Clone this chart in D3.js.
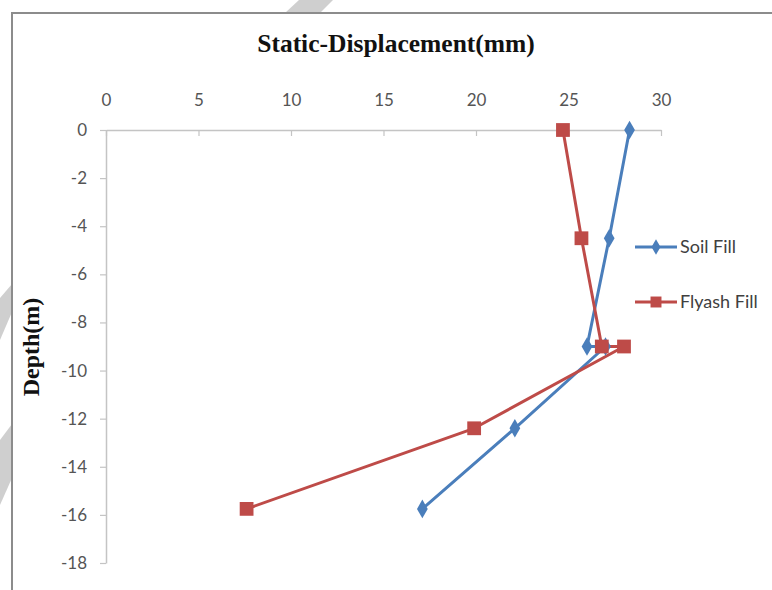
<!DOCTYPE html>
<html>
<head>
<meta charset="utf-8">
<script src="https://cdn.jsdelivr.net/npm/d3@7"></script>
<style>
  html, body { margin: 0; padding: 0; background: #fff; }
  svg { display: block; }
</style>
</head>
<body>
<svg id="chart" width="772" height="590"></svg>
<script>
// ---- Data ----
const soilDisp   = [28.3, 27.2, 26.0, 27.0, 22.1, 17.1];
const soilDepth  = [0, -4.5, -9.0, -9.0, -12.4, -15.75];
const flyDisp    = [24.7, 25.7, 26.8, 28.0, 19.9, 7.6];
const flyDepth   = [0, -4.5, -9.0, -9.0, -12.4, -15.75];
const seriesNames = ["Soil Fill", "Flyash Fill"];
const xTicks = [0, 5, 10, 15, 20, 25, 30];
const yTicks = [0, -2, -4, -6, -8, -10, -12, -14, -16, -18];
const titleText = "Static-Displacement(mm)";
const yLabelText = "Depth(m)";

const colors = ["#4a7ebb", "#be4b48"];

const svg = d3.select("#chart");

// watermark fragments (grey diagonal bands behind the chart)
const wm = [
  [[285,13],[299,0],[333,0],[320,13]],
  [[0,298],[12,284],[12,312],[0,340]],
  [[0,440],[12,424],[12,478],[0,505]]
];
svg.selectAll("polygon.wm").data(wm).join("polygon")
  .attr("class","wm")
  .attr("points", d => d.map(p => p.join(",")).join(" "))
  .attr("fill", "#cfcfcf");

// chart frame
svg.append("path")
  .attr("d", "M12,590 L12,13 L772,13")
  .attr("fill", "none")
  .attr("stroke", "#8c8c8c")
  .attr("stroke-width", 2);

// scales
const x = d3.scaleLinear().domain([0, 30]).range([106, 661]);
const y = d3.scaleLinear().domain([0, -18]).range([130, 563]);

const tickFont = "Lato, 'Open Sans', sans-serif";

// x axis on top (ticks pointing into plot)
const xAxis = svg.append("g").attr("transform", `translate(0,${y(0)})`)
  .call(d3.axisBottom(x).tickValues(xTicks).tickSize(6).tickSizeOuter(0).tickFormat(d3.format("d")));
xAxis.select(".domain").attr("stroke", "#c4c4c4").attr("stroke-width", 1.5);
xAxis.selectAll(".tick line").attr("stroke", "#c4c4c4").attr("stroke-width", 1.2);
xAxis.selectAll(".tick text")
  .attr("y", -24).attr("dy", 0)
  .attr("font-family", tickFont).attr("font-size", 17).attr("fill", "#555");

// y axis
const yAxis = svg.append("g").attr("transform", `translate(${x(0)},0)`)
  .call(d3.axisLeft(y).tickValues(yTicks).tickSize(6).tickSizeOuter(0).tickFormat(d3.format("d")));
yAxis.select(".domain").attr("stroke", "#c4c4c4").attr("stroke-width", 1.5);
yAxis.selectAll(".tick line").attr("stroke", "#c4c4c4").attr("stroke-width", 1.2);
yAxis.selectAll(".tick text")
  .attr("x", -19)
  .attr("font-family", tickFont).attr("font-size", 17).attr("fill", "#555")
  .text(d => d < 0 ? "-" + Math.abs(d) : d);

// title
svg.append("text")
  .attr("x", 396).attr("y", 52)
  .attr("text-anchor", "middle")
  .attr("font-family", "'Liberation Serif', 'Times New Roman', serif")
  .attr("font-weight", "bold").attr("font-size", 25.5)
  .attr("fill", "#111")
  .text(titleText);

// y label
svg.append("text")
  .attr("transform", "translate(39,347) rotate(-90)")
  .attr("text-anchor", "middle")
  .attr("font-family", "'Liberation Serif', 'Times New Roman', serif")
  .attr("font-weight", "bold").attr("font-size", 24)
  .attr("fill", "#111")
  .text(yLabelText);

// series
const series = [
  { name: seriesNames[0], pts: soilDisp.map((v, i) => [v, soilDepth[i]]), color: colors[0], shape: d3.symbolDiamond, size: 100 },
  { name: seriesNames[1], pts: flyDisp.map((v, i) => [v, flyDepth[i]]), color: colors[1], shape: d3.symbolSquare, size: 190 }
];

const line = d3.line().x(d => x(d[0])).y(d => y(d[1]));

series.forEach(s => {
  svg.append("path")
    .attr("d", line(s.pts))
    .attr("fill", "none")
    .attr("stroke", s.color)
    .attr("stroke-width", 3)
    .attr("stroke-linejoin", "round");
});
series.forEach(s => {
  svg.selectAll(null).data(s.pts).join("path")
    .attr("transform", d => `translate(${x(d[0])},${y(d[1])})`)
    .attr("d", d3.symbol().type(s.shape).size(s.size))
    .attr("fill", s.color);
});

// legend
const legendY = [247, 302];
series.forEach((s, i) => {
  const g = svg.append("g").attr("transform", `translate(0,${legendY[i]})`);
  g.append("line").attr("x1", 635).attr("x2", 677).attr("y1", 0).attr("y2", 0)
    .attr("stroke", s.color).attr("stroke-width", 3);
  g.append("path").attr("transform", "translate(656,0)")
    .attr("d", d3.symbol().type(s.shape).size(i === 0 ? 70 : 120))
    .attr("fill", s.color);
  g.append("text").attr("x", 680).attr("y", 0).attr("dy", "0.35em")
    .attr("font-family", tickFont).attr("font-size", 18).attr("fill", "#404040")
    .text(s.name);
});
</script>
</body>
</html>
